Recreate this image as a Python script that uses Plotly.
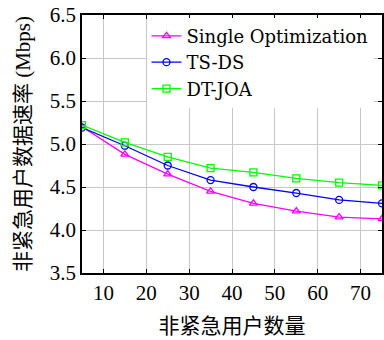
import plotly.graph_objects as go

users = [5, 15, 25, 35, 45, 55, 65, 75]
single_opt = [5.20, 4.88, 4.65, 4.45, 4.31, 4.22, 4.15, 4.13]
ts_ds = [5.19, 4.98, 4.75, 4.58, 4.50, 4.43, 4.35, 4.31]
dt_joa = [5.22, 5.02, 4.85, 4.72, 4.67, 4.60, 4.55, 4.52]

x_ticks = [10, 20, 30, 40, 50, 60, 70]
y_ticks = [3.5, 4.0, 4.5, 5.0, 5.5, 6.0, 6.5]
y_tick_labels = ["3.5", "4.0", "4.5", "5.0", "5.5", "6.0", "6.5"]

FONT = "Liberation Serif, Noto Sans CJK SC"
LEGEND_FONT = "DejaVu Serif"

fig = go.Figure()
series = [
    ("Single Optimization", single_opt, "#ff00ff", "triangle-up-open"),
    ("TS-DS", ts_ds, "#0000ff", "circle-open"),
    ("DT-JOA", dt_joa, "#00ff00", "square-open"),
]
for name, vals, color, sym in series:
    fig.add_trace(go.Scatter(
        x=users, y=vals, name=name, mode="lines+markers",
        line=dict(color=color, width=1.3),
        marker=dict(symbol=sym, size=7, color=color, line=dict(width=1.3, color=color)),
    ))

fig.update_layout(
    width=384, height=340,
    margin=dict(l=82, r=0, t=15, b=67),
    paper_bgcolor="white", plot_bgcolor="white",
    font=dict(family=FONT, size=21, color="black"),
    showlegend=True,
    legend=dict(
        x=0.215, y=0.99, xanchor="left", yanchor="top",
        bgcolor="white", borderwidth=0,
        font=dict(family=LEGEND_FONT, size=18, color="black"),
        itemwidth=30, tracegroupgap=0,
    ),
)
fig.update_xaxes(
    range=[5, 75], tickvals=x_ticks, ticks="inside", ticklen=4,
    tickcolor="black", showline=True, linecolor="black", linewidth=1.5,
    mirror="ticks", showgrid=True, gridcolor="#c8c8c8", gridwidth=1,
    zeroline=False, tickfont=dict(family=FONT, size=21),
    title=dict(text="非紧急用户数量", font=dict(family=FONT, size=21), standoff=14),
)
fig.update_yaxes(
    range=[3.5, 6.5], tickvals=y_ticks, ticktext=y_tick_labels, ticks="inside", ticklen=4,
    tickcolor="black", showline=True, linecolor="black", linewidth=1.5,
    mirror="ticks", showgrid=True, gridcolor="#c8c8c8", gridwidth=1,
    zeroline=False, tickfont=dict(family=FONT, size=21),
    title=dict(text="非紧急用户数据速率 (Mbps)", font=dict(family=FONT, size=21), standoff=13),
)

fig.write_html("out.html", config={"displayModeBar": False},
               post_script="document.body.style.margin='0';")
